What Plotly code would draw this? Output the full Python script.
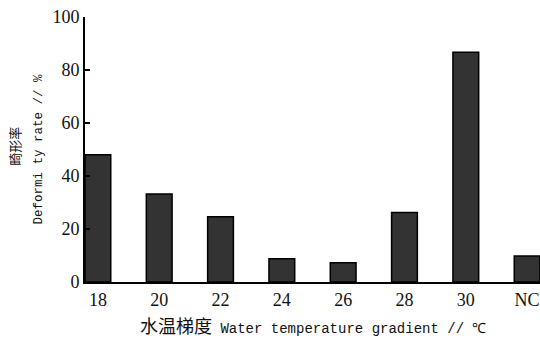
import plotly.graph_objects as go

categories = ["18", "20", "22", "24", "26", "28", "30", "NC"]
deformity_rate = [48.0, 33.2, 24.6, 8.8, 7.3, 26.2, 86.7, 9.8]
y_ticks = [0, 20, 40, 60, 80, 100]

fig = go.Figure()
fig.add_trace(go.Bar(
    x=categories,
    y=deformity_rate,
    marker=dict(color="#333333", line=dict(color="#000000", width=1.5)),
))

fig.update_layout(
    width=540, height=340,
    margin=dict(l=85, r=0, t=17, b=58),
    paper_bgcolor="white", plot_bgcolor="white",
    bargap=0.58,
    showlegend=False,
    font=dict(family="Liberation Serif", color="#111111"),
)
fig.update_xaxes(
    type="category",
    range=[-0.21, 7.21],
    showline=True, linecolor="#000000", linewidth=2,
    ticks="", showgrid=False, zeroline=False,
    tickfont=dict(family="Liberation Serif", size=18, color="#111111"),
)
fig.update_yaxes(
    range=[0, 100],
    tickvals=y_ticks,
    showline=True, linecolor="#000000", linewidth=2,
    ticks="inside", ticklen=5, tickwidth=2, tickcolor="#000000",
    showgrid=False, zeroline=False,
    tickfont=dict(family="Liberation Serif", size=18, color="#111111"),
)

# y-axis title: two lines, placed separately for the wide line gap
fig.add_annotation(
    xref="paper", yref="paper", x=0, y=0.51,
    xanchor="center", yanchor="middle", xshift=-70,
    textangle=-90, showarrow=False,
    text="畸形率",
    font=dict(family="Noto Sans CJK SC", size=13, color="#111111"),
)
fig.add_annotation(
    xref="paper", yref="paper", x=0, y=0.5,
    xanchor="center", yanchor="middle", xshift=-47,
    textangle=-90, showarrow=False,
    text="Deformi ty rate // %",
    font=dict(family="Liberation Mono", size=12.5, color="#111111"),
)
fig.add_annotation(
    xref="paper", yref="paper", x=0.5, y=0,
    xanchor="center", yanchor="middle", yshift=-43,
    showarrow=False,
    text=("<span style=\"font-family:Noto Sans CJK SC;font-size:18px\">水温梯度</span>"
          "<span style=\"font-family:Liberation Mono;font-size:14px\"> Water temperature gradient // ℃</span>"),
    font=dict(family="Liberation Mono", size=14, color="#111111"),
)

fig.write_html("out.html")
